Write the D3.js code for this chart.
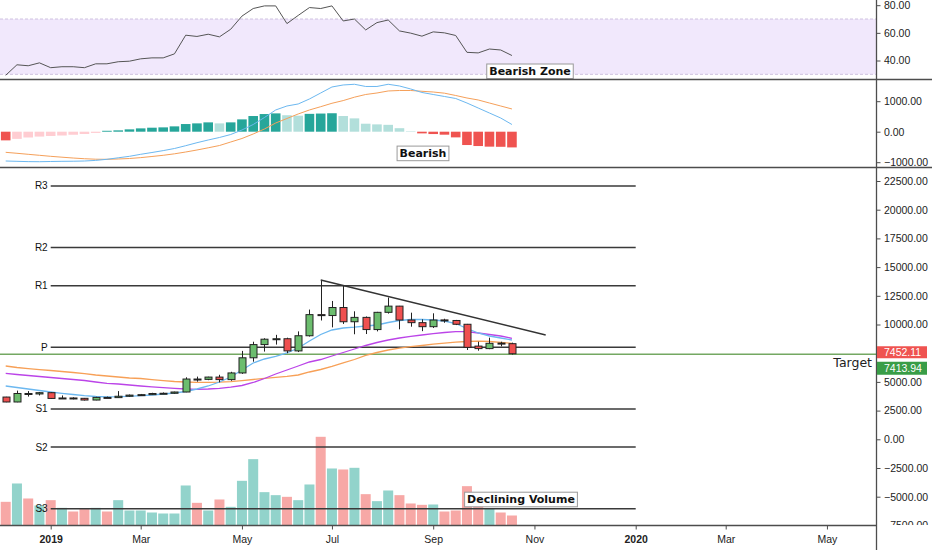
<!DOCTYPE html>
<html>
<head>
<meta charset="utf-8">
<script src="https://cdn.jsdelivr.net/npm/d3@7"></script>
<style>
  html, body { margin: 0; padding: 0; background: #fff; }
  svg { display: block; font-family: "Liberation Sans", Arial, sans-serif; }
</style>
</head>
<body>
<div id="chart"></div>
<script>
//////////////////////////
// Data (weekly bars)
//////////////////////////

const weeks = [
  '2018-12-10','2018-12-17','2018-12-24','2018-12-31','2019-01-07','2019-01-14','2019-01-21','2019-01-28',
  '2019-02-04','2019-02-11','2019-02-18','2019-02-25','2019-03-04','2019-03-11','2019-03-18','2019-03-25',
  '2019-04-01','2019-04-08','2019-04-15','2019-04-22','2019-04-29','2019-05-06','2019-05-13','2019-05-20',
  '2019-05-27','2019-06-03','2019-06-10','2019-06-17','2019-06-24','2019-07-01','2019-07-08','2019-07-15',
  '2019-07-22','2019-07-29','2019-08-05','2019-08-12','2019-08-19','2019-08-26','2019-09-02','2019-09-09',
  '2019-09-16','2019-09-23','2019-09-30','2019-10-07','2019-10-14','2019-10-21'
];

const opens = [3680,3250,3990,3950,4060,3560,3600,3570,3420,3650,3630,3750,3850,3890,3990,4010,
  4120,5250,5220,5420,5200,5780,7100,8250,8720,8760,7700,9020,10860,10780,11480,10240,
  10620,9560,11060,11600,10390,10160,9810,10400,10350,10020,8120,7900,8380,8330];
const highs = [3700,4240,4200,4120,4100,3820,3660,3600,3700,3720,4200,3900,3950,4050,4080,4150,
  5400,5460,5450,5620,5880,7700,8500,8800,9100,8850,9400,11300,13880,12050,13400,11150,
  10700,11100,12350,11620,11030,10450,10975,10500,10400,10050,8500,8850,8500,8420];
const lows = [3230,3230,3720,3820,3520,3510,3480,3380,3400,3600,3600,3700,3800,3860,3940,3960,
  4100,5020,5150,4960,5100,5700,6760,7640,8250,7500,7600,8950,10350,9750,10050,9150,
  9170,9400,10950,9580,9810,9420,9700,10150,9950,7780,7720,7850,8100,7380];
const closes = [3250,3990,3950,4060,3560,3600,3570,3420,3650,3630,3750,3850,3890,3990,4010,4120,
  5250,5220,5420,5200,5780,7100,8250,8720,8760,7700,9020,10860,10780,11480,10240,10620,
  9560,11060,11600,10390,10160,9810,10390,10350,10020,8010,7900,8360,8330,7452.11];

// volume in thousands
const volumes = [71,126,81,60,76,53,42,49,53,42,76,45,45,39,36,36,
  120,68,45,78,56,134,199,100,91,86,76,123,266,171,168,173,
  94,73,105,91,66,62,63,42,45,118,88,50,39,30];

// moving averages on price
const maBlue = [4643,4512,4382,4251,4120,4007,3903,3798,3728,3702,3711,3746,3798,3859,3946,4033,
  4164,4382,4643,4991,5427,6037,6647,6995,7213,7518,7953,8563,9129,9521,9695,9765,
  9870,9957,10174,10349,10436,10436,10392,10305,10087,9652,9260,8999,8824,8650];
const maPurple = [5749,5645,5558,5471,5383,5296,5209,5122,4991,4878,4817,4730,4643,4573,4504,4443,
  4382,4356,4382,4443,4538,4687,4948,5296,5688,6037,6385,6734,6951,7256,7561,7866,
  8171,8432,8650,8824,8972,9086,9199,9303,9373,9373,9260,9129,8999,8798];
const maOrange = [6385,6255,6150,6063,5993,5906,5819,5714,5601,5514,5427,5340,5296,5192,5105,5035,
  4991,4957,4957,4974,5026,5113,5209,5314,5401,5488,5601,5863,6080,6342,6647,6951,
  7300,7561,7779,7936,8066,8171,8284,8371,8458,8519,8546,8519,8450,8363];

// RSI
const rsiValues = [29.3,36.9,36.2,38.3,34.8,35.5,35.5,34.8,37.6,37.6,39.1,39.5,41.2,41.9,41.9,44.8,
  58.3,57.4,59,57.1,62.6,72.1,77.6,79.5,79.5,66.7,72.6,78.3,77.6,79.5,68.6,70,
  62.1,67.4,69.3,61.4,59.8,57.6,60.7,60,58.1,45.9,45.5,48.3,47.6,43.6];
const rsiBand = [30, 70];

// MACD
const macdLine = [-961,-971,-981,-984,-977,-971,-968,-961,-941,-905,-856,-807,-741,-682,-620,-551,
  -459,-361,-272,-190,-92,56,236,466,712,843,909,1073,1269,1466,1532,1555,
  1483,1483,1555,1499,1401,1286,1220,1155,1089,941,777,613,449,236];
const signalLine = [-676,-708,-741,-774,-807,-836,-863,-886,-902,-905,-895,-879,-850,-813,-774,-725,
  -666,-600,-528,-453,-338,-223,-75,89,285,433,581,712,820,932,1020,1132,
  1220,1269,1335,1351,1351,1325,1302,1263,1187,1105,1040,941,843,745];
const macdHist = [-284,-235,-190,-160,-140,-125,-100,-75,-40,30,44,77,109,131,142,175,
  251,273,306,273,306,404,514,579,601,540,525,585,595,605,514,437,
  262,240,225,115,15,-55,-77,-98,-186,-437,-470,-490,-495,-515];

// yearly pivot points (fibonacci)
const pivotNames = ['R3','R2','R1','P','S1','S2','S3'];
const pivotValues = [22070,16700,13380,8015,2645,-675,-6040];
const pivotPeriod = ['2019-01-07','2020-01-06'];

// drawn trendline and target
const trendDates = ['2019-06-24','2019-11-11'];
const trendValues = [13880, 9090];
const targetValue = 7413.94;

// axis ticks
const tickDates = ['2019-01-07','2019-03-04','2019-05-06','2019-07-01','2019-09-02','2019-11-04',
  '2020-01-06','2020-03-02','2020-05-04'];
const tickLabels = ['2019','Mar','May','Jul','Sep','Nov','2020','Mar','May'];
const priceTicks = [-7500,-5000,-2500,0,2500,5000,7500,10000,12500,15000,17500,20000,22500];
const macdTicks = [-1000,0,1000];
const rsiTicks = [40,60,80];


//////////////////////////
// D3 Stuff
//////////////////////////

const parseDate = d3.timeParse('%Y-%m-%d');
const dates = weeks.map(parseDate);

const W = 932, H = 550;
const axisX = 876.5;

const svg = d3.select('#chart')
    .append('svg')
    .attr('width', W)
    .attr('height', H);

// scales
const x = d3.scaleTime()
    .domain([parseDate('2018-12-10'), parseDate('2020-05-04')])
    .range([5.7, 826.95]);

const yRsi = d3.scaleLinear().domain([40, 80]).range([60.5, 5.2]);
const yMacd = d3.scaleLinear().domain([-1000, 1000]).range([162.2, 101.2]);
const yPrice = d3.scaleLinear().domain([0, 22500]).range([439.3, 181]);
const yVol = d3.scaleLinear().domain([0, 266]).range([525.5, 436.8]);

// clip paths for panes
const defs = svg.append('defs');
function addClip(id, x0, y0, x1, y1) {
    defs.append('clipPath').attr('id', id)
        .append('rect')
        .attr('x', x0).attr('y', y0)
        .attr('width', x1 - x0).attr('height', y1 - y0);
}
addClip('rsiClip', 0, 0, 876, 79);
addClip('macdClip', 0, 80, 876, 167);
addClip('priceClip', 0, 168, 876, 525);
addClip('rsiAxClip', 877, 0, W, 79);
addClip('macdAxClip', 877, 80, W, 167);
addClip('priceAxClip', 877, 168, W, 525);

const xi = (d, i) => x(dates[i]);

// RSI pane
const rsiG = svg.append('g').attr('clip-path', 'url(#rsiClip)');

rsiG.append('rect')
    .attr('x', 0)
    .attr('width', 876)
    .attr('y', yRsi(rsiBand[1]))
    .attr('height', yRsi(rsiBand[0]) - yRsi(rsiBand[1]))
    .attr('fill', '#f1e8fc');

rsiG.selectAll('line.band')
    .data(rsiBand)
    .enter()
    .append('line')
    .attr('class', 'band')
    .attr('x1', 0).attr('x2', 876)
    .attr('y1', d => yRsi(d)).attr('y2', d => yRsi(d))
    .attr('stroke', '#cfc2e0')
    .attr('stroke-dasharray', '3,2');

rsiG.append('path')
    .datum(rsiValues)
    .attr('d', d3.line().x(xi).y(d => yRsi(d)))
    .attr('fill', 'none')
    .attr('stroke', '#555')
    .attr('stroke-width', 1);

// MACD pane
const macdG = svg.append('g').attr('clip-path', 'url(#macdClip)');

function histColor(v, i) {
    const rising = i > 0 && v > macdHist[i - 1];
    if (v >= 0) return rising ? '#26a69a' : '#b2dfdb';
    return rising ? '#ffcdd2' : '#ef5350';
}

macdG.selectAll('rect.hist')
    .data(macdHist)
    .enter()
    .append('rect')
    .attr('class', 'hist')
    .attr('x', (d, i) => xi(d, i) - 4.8)
    .attr('width', 9.6)
    .attr('y', d => yMacd(Math.max(0, d)))
    .attr('height', d => Math.abs(yMacd(d) - yMacd(0)))
    .attr('fill', histColor);

[[signalLine, '#f5a05a'], [macdLine, '#6cb8f0']].forEach(([series, color]) => {
    macdG.append('path')
        .datum(series)
        .attr('d', d3.line().x(xi).y(d => yMacd(d)))
        .attr('fill', 'none')
        .attr('stroke', color)
        .attr('stroke-width', 1);
});

// price pane
const priceG = svg.append('g').attr('clip-path', 'url(#priceClip)');

const isUp = i => closes[i] >= opens[i];

// volume
priceG.selectAll('rect.vol')
    .data(volumes)
    .enter()
    .append('rect')
    .attr('class', 'vol')
    .attr('x', (d, i) => xi(d, i) - 5)
    .attr('width', 10)
    .attr('y', d => yVol(d))
    .attr('height', d => yVol(0) - yVol(d))
    .attr('fill', (d, i) => isUp(i) ? '#92d3cb' : '#f7a8a6');

// pivot lines
const pX0 = x(parseDate(pivotPeriod[0]));
const pX1 = x(parseDate(pivotPeriod[1]));
priceG.selectAll('line.pivot')
    .data(pivotValues)
    .enter()
    .append('line')
    .attr('class', 'pivot')
    .attr('x1', pX0).attr('x2', pX1)
    .attr('y1', d => yPrice(d)).attr('y2', d => yPrice(d))
    .attr('stroke', '#3a3a3a')
    .attr('stroke-width', 1.5);

priceG.selectAll('text.pivot')
    .data(pivotValues)
    .enter()
    .append('text')
    .attr('class', 'pivot')
    .attr('x', pX0 - 3)
    .attr('y', d => yPrice(d))
    .attr('dy', '0.35em')
    .attr('text-anchor', 'end')
    .attr('font-size', 10)
    .attr('fill', '#111')
    .text((d, i) => pivotNames[i]);

// target line
priceG.append('line')
    .attr('x1', 0).attr('x2', 876)
    .attr('y1', yPrice(targetValue)).attr('y2', yPrice(targetValue))
    .attr('stroke', '#74a862')
    .attr('stroke-width', 1.4);

// moving averages
[[maOrange, '#f7a057'], [maPurple, '#bb44e8'], [maBlue, '#6cb8f0']].forEach(([series, color]) => {
    priceG.append('path')
        .datum(series)
        .attr('d', d3.line().x(xi).y(d => yPrice(d)))
        .attr('fill', 'none')
        .attr('stroke', color)
        .attr('stroke-width', 1.3);
});

// candles
const candle = priceG.selectAll('g.candle')
    .data(closes)
    .enter()
    .append('g')
    .attr('class', 'candle')
    .attr('transform', (d, i) => 'translate(' + Math.round(xi(d, i)) + ',0)');

candle.append('line')
    .attr('x1', 0.5).attr('x2', 0.5)
    .attr('y1', (d, i) => yPrice(highs[i]))
    .attr('y2', (d, i) => yPrice(lows[i]))
    .attr('stroke', '#222')
    .attr('stroke-width', 1);

candle.append('rect')
    .attr('x', -3)
    .attr('width', 7)
    .attr('y', (d, i) => yPrice(Math.max(opens[i], closes[i])))
    .attr('height', (d, i) => Math.max(1, Math.abs(yPrice(opens[i]) - yPrice(closes[i]))))
    .attr('fill', (d, i) => isUp(i) ? '#6cbd6e' : '#ef5050')
    .attr('stroke', '#222')
    .attr('stroke-width', 1);

// trendline
priceG.append('path')
    .datum(trendValues)
    .attr('d', d3.line().x((d, i) => x(parseDate(trendDates[i]))).y(d => yPrice(d)))
    .attr('stroke', '#333')
    .attr('stroke-width', 1.4)
    .attr('fill', 'none');

// "Target" text
svg.append('text')
    .attr('x', 872)
    .attr('y', yPrice(targetValue) + 12.5)
    .attr('text-anchor', 'end')
    .attr('font-family', '"DejaVu Sans", sans-serif')
    .attr('font-size', 12.5)
    .attr('fill', '#222')
    .text('Target');

// annotation boxes
function note(text, cx, cy) {
    const g = svg.append('g');
    const t = g.append('text')
        .attr('x', cx)
        .attr('y', cy)
        .attr('dy', '0.36em')
        .attr('text-anchor', 'middle')
        .attr('font-family', '"DejaVu Sans", sans-serif')
        .attr('font-weight', 'bold')
        .attr('font-size', 11)
        .attr('fill', '#111')
        .text(text);
    const w = t.node().getComputedTextLength() + 5;
    g.insert('rect', 'text')
        .attr('x', cx - w / 2)
        .attr('y', cy - 7.3)
        .attr('width', w)
        .attr('height', 14.6)
        .attr('fill', '#fff')
        .attr('stroke', '#999');
}
note('Bearish Zone', 530, 71.3);
note('Bearish', 423, 153.4);
note('Declining Volume', 521, 499.5);

// frame lines
const frame = svg.append('g').attr('stroke', '#4d4d4d').attr('stroke-width', 1.3);
frame.append('line').attr('x1', 0).attr('x2', W).attr('y1', 79.5).attr('y2', 79.5);
frame.append('line').attr('x1', 0).attr('x2', W).attr('y1', 167.5).attr('y2', 167.5);
frame.append('line').attr('x1', 0).attr('x2', axisX).attr('y1', 525.5).attr('y2', 525.5);
frame.append('line').attr('x1', axisX).attr('x2', axisX).attr('y1', 0).attr('y2', H);

// right axes
function rightAxis(scale, ticks, clipId) {
    const g = svg.append('g').attr('clip-path', 'url(#' + clipId + ')')
        .append('g')
        .attr('transform', 'translate(' + axisX + ',0)')
        .call(d3.axisRight(scale).tickValues(ticks).tickFormat(d3.format('.2f')).tickSize(4).tickPadding(3.5));
    g.select('.domain').remove();
    g.selectAll('line').attr('stroke', '#4d4d4d');
    g.selectAll('text')
        .attr('font-family', '"Liberation Sans", Arial, sans-serif')
        .attr('font-size', 10.5)
        .attr('fill', '#222');
}
rightAxis(yRsi, rsiTicks, 'rsiAxClip');
rightAxis(yMacd, macdTicks, 'macdAxClip');
rightAxis(yPrice, priceTicks, 'priceAxClip');

// price labels on axis
const lastY = yPrice(closes[closes.length - 1]) - 1.5;
const tags = [
    { text: d3.format('.2f')(closes[closes.length - 1]), y: lastY - 6, h: 12, fill: '#ef5350' },
    { text: d3.format('.2f')(targetValue), y: lastY + 9.5, h: 13, fill: '#399d47' }
];
tags.forEach(tg => {
    svg.append('rect')
        .attr('x', 877).attr('y', tg.y)
        .attr('width', 50).attr('height', tg.h)
        .attr('fill', tg.fill);
    svg.append('text')
        .attr('x', 884).attr('y', tg.y + tg.h / 2)
        .attr('dy', '0.35em')
        .attr('font-size', 10.5)
        .attr('fill', '#fff')
        .text(tg.text);
});

// x axis
const xAxis = svg.append('g')
    .attr('transform', 'translate(0,525.5)')
    .call(d3.axisBottom(x)
        .tickValues(tickDates.map(parseDate))
        .tickFormat((d, i) => tickLabels[i])
        .tickSize(4)
        .tickPadding(6.5));
xAxis.select('.domain').remove();
xAxis.selectAll('line').attr('stroke', '#4d4d4d');
xAxis.selectAll('text')
    .attr('font-family', '"Liberation Sans", Arial, sans-serif')
    .attr('font-size', 10.5)
    .attr('fill', '#222')
    .attr('font-weight', (d, i) => /^\d{4}$/.test(tickLabels[i]) ? 'bold' : 'normal');
</script>
</body>
</html>
